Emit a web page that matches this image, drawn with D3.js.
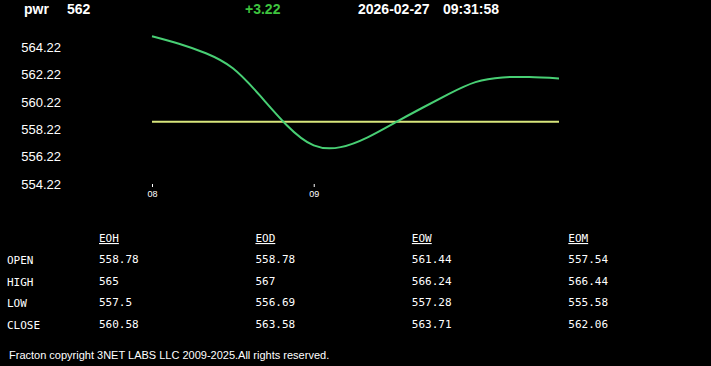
<!DOCTYPE html>
<html>
<head>
<meta charset="utf-8">
<script src="https://cdn.jsdelivr.net/npm/d3@7"></script>
<style>
  html, body { margin: 0; padding: 0; background: #000; }
  svg { display: block; }
</style>
</head>
<body>
<svg width="711" height="366"></svg>
<script>
  // header
  const symbolName = 'pwr';
  const lastPrice = '562';
  const priceChange = '+3.22';
  const quoteDate = '2026-02-27';
  const quoteTime = '09:31:58';

  // intraday series
  const times  = ['08:00', '08:10', '08:20', '08:30', '08:40', '08:50', '09:00', '09:10',
                  '09:20', '09:30', '09:40', '09:50', '10:00', '10:10', '10:20', '10:31'];
  const prices = [565.05, 564.50, 563.80, 562.70, 560.71, 558.53, 557.05, 556.92,
                  557.64, 558.70, 559.77, 560.80, 561.68, 562.03, 562.05, 561.95];
  const openLevel = 558.78;

  const yTicks = [554.22, 556.22, 558.22, 560.22, 562.22, 564.22];
  const xTicks = ['08:00', '09:00'];

  // summary table
  const tableCols = ['EOH', 'EOD', 'EOW', 'EOM'];
  const tableRows = ['OPEN', 'HIGH', 'LOW', 'CLOSE'];
  const eohValues = [558.78, 565, 557.5, 560.58];
  const eodValues = [558.78, 567, 556.69, 563.58];
  const eowValues = [561.44, 566.24, 557.28, 563.71];
  const eomValues = [557.54, 566.44, 555.58, 562.06];

  const footerText = 'Fracton copyright 3NET LABS LLC 2009-2025.All rights reserved.';

  const svg = d3.select('svg');
  svg.append('rect').attr('width', 711).attr('height', 366).attr('fill', '#000');

  const parseTime = d3.timeParse('%H:%M');
  const data = times.map((t, i) => ({ time: parseTime(t), value: prices[i] }));

  // header line
  const head = svg.append('g')
    .style('font-family', 'Liberation Sans, Arial, sans-serif')
    .style('font-weight', 'bold')
    .style('font-size', '14px');
  head.append('text').attr('x', 24).attr('y', 14).attr('fill', '#fff').text(symbolName);
  head.append('text').attr('x', 67).attr('y', 14).attr('fill', '#fff').text(lastPrice);
  head.append('text').attr('x', 245).attr('y', 14).attr('fill', '#3ec33e').text(priceChange);
  head.append('text').attr('x', 358).attr('y', 14).attr('fill', '#fff').text(quoteDate);
  head.append('text').attr('x', 443).attr('y', 14).attr('fill', '#fff').text(quoteTime);

  // scales
  const xScale = d3.scaleTime()
    .domain([parseTime(times[0]), parseTime(times[times.length - 1])])
    .range([152, 559]);

  const yScale = d3.scaleLinear()
    .domain([554.22, 564.22])
    .range([184, 47.5]);

  // y axis labels (no line)
  const yAxis = d3.axisLeft(yScale)
    .tickValues(yTicks)
    .tickSize(0)
    .tickPadding(0)
    .tickFormat(d3.format('.2f'));
  const yAxisG = svg.append('g')
    .attr('transform', 'translate(61,0)')
    .call(yAxis);
  yAxisG.select('.domain').remove();
  yAxisG.selectAll('text')
    .attr('fill', '#fff')
    .style('font-family', 'Liberation Sans, Arial, sans-serif')
    .style('font-size', '13px');

  // x axis
  const xAxis = d3.axisBottom(xScale)
    .tickValues(xTicks.map(parseTime))
    .tickSize(3)
    .tickPadding(4)
    .tickFormat(d3.timeFormat('%H'));
  const xAxisG = svg.append('g')
    .attr('transform', 'translate(0,184)')
    .call(xAxis);
  xAxisG.select('.domain').remove();
  xAxisG.selectAll('line').attr('stroke', '#fff');
  xAxisG.selectAll('text')
    .attr('fill', '#fff')
    .style('font-family', 'Liberation Sans, Arial, sans-serif')
    .style('font-size', '9px');

  // open level
  svg.append('line')
    .attr('x1', xScale(data[0].time))
    .attr('x2', xScale(data[data.length - 1].time))
    .attr('y1', yScale(openLevel))
    .attr('y2', yScale(openLevel))
    .attr('stroke', '#d8e67c')
    .attr('stroke-width', 2);

  // price line
  const line = d3.line()
    .x(d => xScale(d.time))
    .y(d => yScale(d.value))
    .curve(d3.curveNatural);

  svg.append('path')
    .datum(data)
    .attr('d', line)
    .attr('fill', 'none')
    .attr('stroke', '#48cf74')
    .attr('stroke-width', 2);

  // table
  const colScale = d3.scalePoint().domain(tableCols).range([99, 568.3]);
  const rowScale = d3.scalePoint().domain(tableRows).range([264, 329]);
  const colValues = { EOH: eohValues, EOD: eodValues, EOW: eowValues, EOM: eomValues };

  const table = svg.append('g')
    .style('font-family', 'DejaVu Sans Mono, monospace')
    .style('font-size', '11px')
    .attr('fill', '#fff');

  table.selectAll('.col-head').data(tableCols)
    .enter().append('text')
      .attr('class', 'col-head')
      .attr('x', d => colScale(d))
      .attr('y', 242)
      .style('text-decoration', 'underline')
      .text(d => d);

  table.selectAll('.row-head').data(tableRows)
    .enter().append('text')
      .attr('class', 'row-head')
      .attr('x', 7)
      .attr('y', d => rowScale(d))
      .text(d => d);

  tableCols.forEach(col => {
    table.selectAll('.cell-' + col).data(colValues[col])
      .enter().append('text')
        .attr('class', 'cell-' + col)
        .attr('x', colScale(col))
        .attr('y', (d, i) => rowScale(tableRows[i]) - 1)
        .text(d => String(d));
  });

  // footer
  svg.append('text')
    .attr('x', 9)
    .attr('y', 359)
    .attr('fill', '#fff')
    .style('font-family', 'Liberation Sans, Arial, sans-serif')
    .style('font-size', '11px')
    .text(footerText);
</script>
</body>
</html>
